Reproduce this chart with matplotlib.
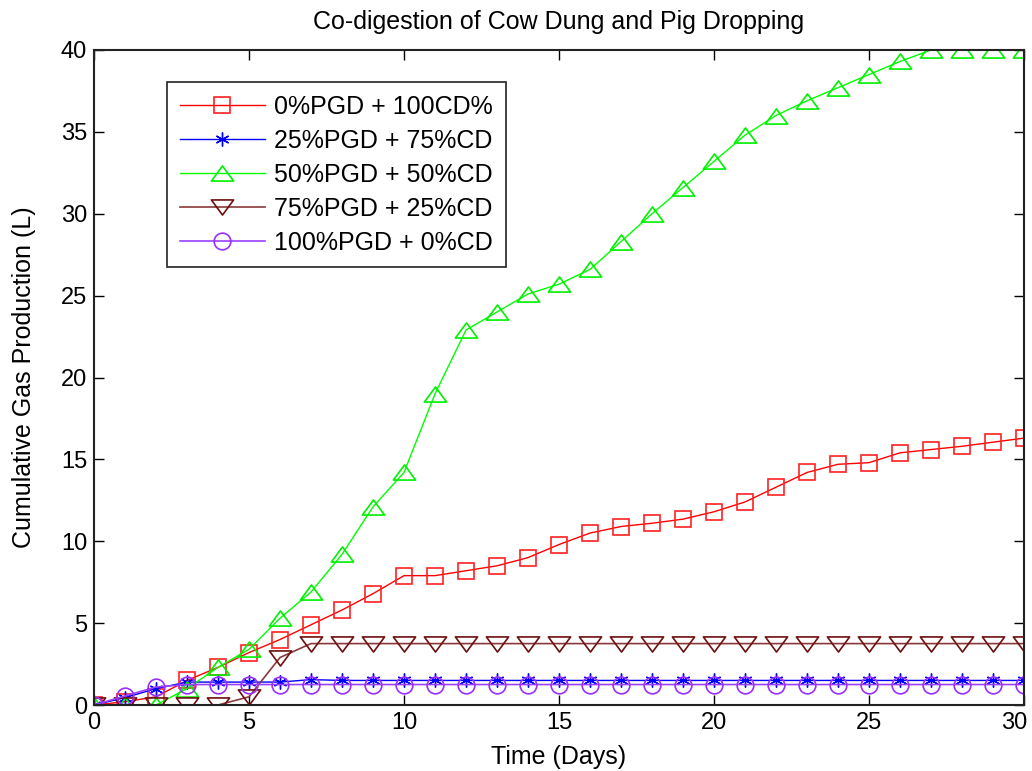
import numpy as np
import matplotlib
matplotlib.use('Agg')
import matplotlib.pyplot as plt
from matplotlib.path import Path
from matplotlib.transforms import ScaledTranslation

plt.rcParams['font.family'] = ['Liberation Sans', 'DejaVu Sans']

# days of digestion
days = list(range(0, 31))

# cumulative gas production (L) for each mix
pgd0_cd100 = [0.0, 0.2, 0.5, 1.5, 2.3, 3.2, 4.0, 4.9, 5.8, 6.8, 7.9, 7.9, 8.2, 8.5, 9.0, 9.8,
              10.5, 10.9, 11.1, 11.35, 11.8, 12.4, 13.3, 14.2, 14.7, 14.8, 15.4, 15.6, 15.8, 16.05, 16.3]
pgd25_cd75 = [0.0, 0.45, 1.0, 1.4, 1.4, 1.4, 1.4, 1.55, 1.5, 1.5, 1.5, 1.5, 1.5, 1.5, 1.5, 1.5,
              1.5, 1.5, 1.5, 1.5, 1.5, 1.5, 1.5, 1.5, 1.5, 1.5, 1.5, 1.5, 1.5, 1.5, 1.5]
pgd50_cd50 = [0.0, 0.0, 0.0, 1.0, 2.3, 3.4, 5.3, 6.9, 9.2, 12.1, 14.2, 19.0, 22.9, 24.0, 25.1, 25.7,
              26.6, 28.3, 30.0, 31.6, 33.2, 34.8, 36.0, 36.9, 37.7, 38.5, 39.3, 40.0, 40.0, 40.0, 40.0]
pgd75_cd25 = [0.0, 0.0, 0.0, 0.0, 0.0, 0.5, 2.9, 3.75, 3.75, 3.75, 3.75, 3.75, 3.75, 3.75, 3.75, 3.75,
              3.75, 3.75, 3.75, 3.75, 3.75, 3.75, 3.75, 3.75, 3.75, 3.75, 3.75, 3.75, 3.75, 3.75, 3.75]
pgd100_cd0 = [0.0, 0.55, 1.1, 1.25, 1.25, 1.25, 1.25, 1.25, 1.25, 1.25, 1.25, 1.25, 1.25, 1.25, 1.25, 1.25,
              1.25, 1.25, 1.25, 1.25, 1.25, 1.25, 1.25, 1.25, 1.25, 1.25, 1.25, 1.25, 1.25, 1.25, 1.25]

labels = ['0%PGD + 100CD%', '25%PGD + 75%CD', '50%PGD + 50%CD', '75%PGD + 25%CD', '100%PGD + 0%CD']

# matlab style flat triangles
tri_up = Path([(0, 0.68), (-1, -0.68), (1, -0.68), (0, 0.68)], closed=True)
tri_down = Path([(0, -0.68), (-1, 0.68), (1, 0.68), (0, -0.68)], closed=True)

fig = plt.figure(figsize=(10.32, 7.71), dpi=100)
ax = fig.add_axes([94/1032, 66/771, 930/1032, 655/771])

ax.plot(days, pgd0_cd100, color='#ff0000', lw=1, marker='s', ms=12, mfc='none', mec='#ff2020', mew=1.2, label=labels[0])
ax.plot(days, pgd25_cd75, color='#0000ff', lw=1, marker=(6, 2, 0), ms=10, mfc='none', mec='#0000ff', mew=1, label=labels[1])
ax.plot(days, pgd50_cd50, color='#00ff00', lw=1, marker=tri_up, ms=16, mfc='none', mec='#00f000', mew=1.2, label=labels[2])
ax.plot(days, pgd75_cd25, color='#8a3a3a', lw=1.2, marker=tri_down, ms=16, mfc='none', mec='#6e0f0f', mew=1.2, label=labels[3])
ax.plot(days, pgd100_cd0, color='#9a40ff', lw=1.2, marker='o', ms=12, mfc='none', mec='#9a30ff', mew=1.2, label=labels[4])

ax.set_xlim(0, 30)
ax.set_ylim(0, 40)
ax.set_xticks(np.arange(0, 31, 5))
ax.set_yticks(np.arange(0, 41, 5))
ax.tick_params(direction='in', length=7, width=1, top=True, right=True, labelsize=17, pad=5)
for s in ax.spines.values():
    s.set_linewidth(1.5)
    s.set_color('#222222')

# last x label is pulled inside the figure, like matlab does
fig.canvas.draw()
last = ax.get_xticklabels()[-1]
last.set_transform(last.get_transform() + ScaledTranslation(-10/100, 0, fig.dpi_scale_trans))

ax.set_title('Co-digestion of Cow Dung and Pig Dropping', fontsize=18, pad=15)
ax.set_xlabel('Time (Days)', fontsize=18, labelpad=8)
ax.set_ylabel('Cumulative Gas Production (L)', fontsize=18, labelpad=18)

leg = ax.legend(loc='upper left', bbox_to_anchor=(73/930, 623/655), borderaxespad=0, fontsize=18,
                fancybox=False, framealpha=1, edgecolor='#222222', handlelength=3.4, handletextpad=0.4,
                labelspacing=0.4, borderpad=0.5)
leg.get_frame().set_linewidth(1.2)

fig.savefig('out.png', dpi=100, facecolor='white')
